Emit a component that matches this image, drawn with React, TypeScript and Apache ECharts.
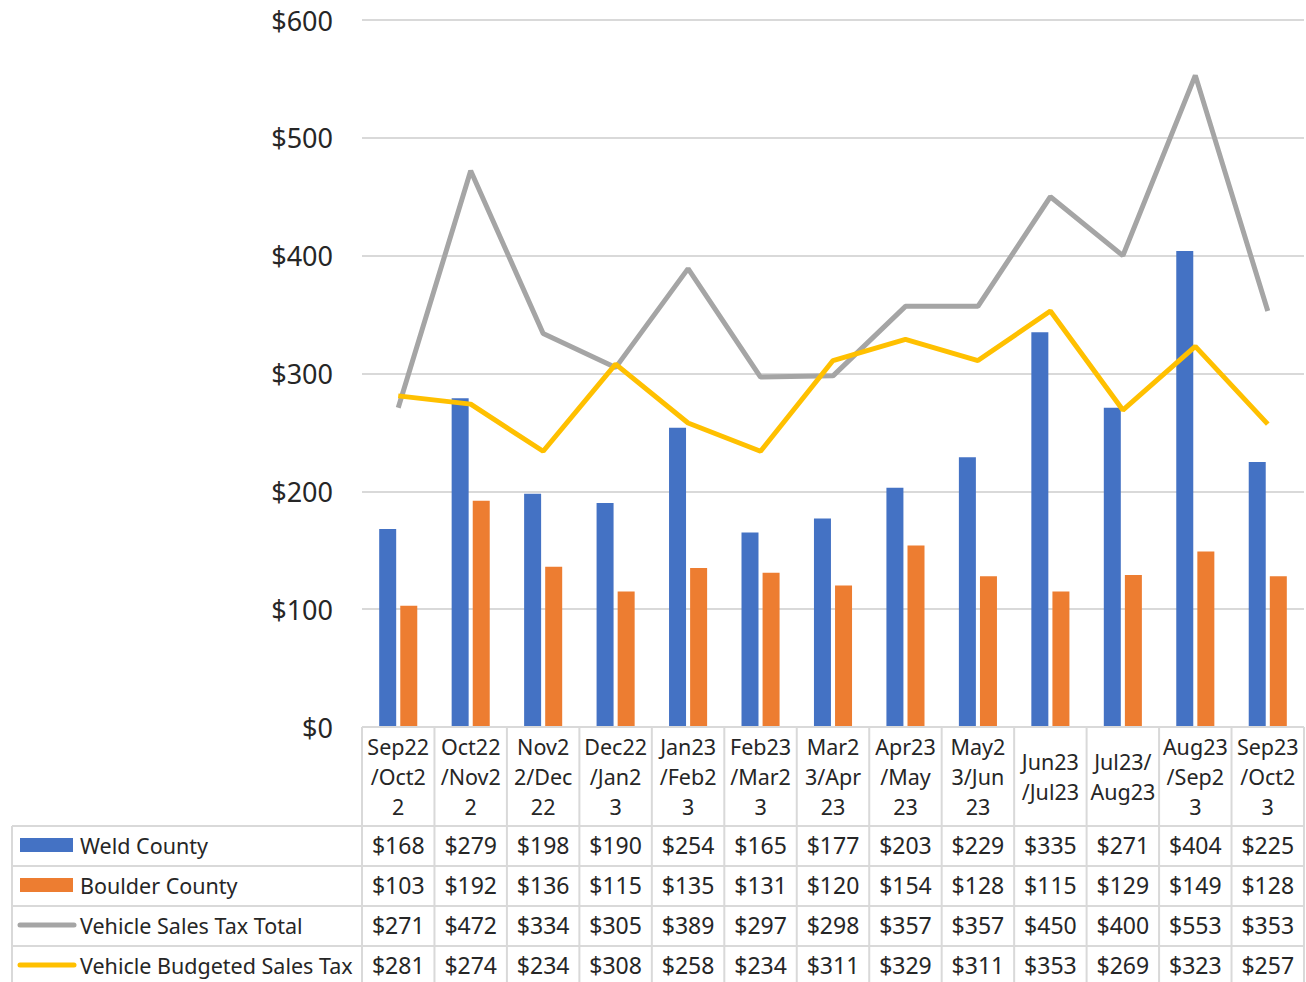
import React, { useEffect, useRef } from "react";
import * as echarts from "echarts";

const categories = [
  "Sep22\n/Oct2\n2", "Oct22\n/Nov2\n2", "Nov2\n2/Dec\n22", "Dec22\n/Jan2\n3",
  "Jan23\n/Feb2\n3", "Feb23\n/Mar2\n3", "Mar2\n3/Apr\n23", "Apr23\n/May\n23",
  "May2\n3/Jun\n23", "Jun23\n/Jul23", "Jul23/\nAug23", "Aug23\n/Sep2\n3", "Sep23\n/Oct2\n3",
];
const weld = [168, 279, 198, 190, 254, 165, 177, 203, 229, 335, 271, 404, 225];
const boulder = [103, 192, 136, 115, 135, 131, 120, 154, 128, 115, 129, 149, 128];
const total = [271, 472, 334, 305, 389, 297, 298, 357, 357, 450, 400, 553, 353];
const budget = [281, 274, 234, 308, 258, 234, 311, 329, 311, 353, 269, 323, 257];
const yTicks = [0, 100, 200, 300, 400, 500, 600];

const seriesInfo = [
  { name: "Weld County", data: weld, color: "#4472c4", kind: "bar" },
  { name: "Boulder County", data: boulder, color: "#ed7d31", kind: "bar" },
  { name: "Vehicle Sales Tax Total", data: total, color: "#a5a5a5", kind: "line" },
  { name: "Vehicle Budgeted Sales Tax", data: budget, color: "#ffc000", kind: "line" },
];

const FONT = "'Noto Sans', sans-serif";
const TXT = "#262626";
const BORDER = "#d9d9d9";

export default function App() {
  const ref = useRef<HTMLDivElement>(null);
  useEffect(() => {
    if (!ref.current) return;
    const chart = echarts.init(ref.current, null, { renderer: "svg" });
    const W = 1306, H = 982;
    const gridLeft = 362, gridRight = 2, gridTop = 20, plotBottom = 727;
    const plotW = W - gridLeft - gridRight;
    const n = categories.length;
    const colW = plotW / n;
    const tableLeft = 12;
    const headerBottom = 826;
    const rowH = 40;

    const graphics: any[] = [];
    const line = (x1: number, y1: number, x2: number, y2: number) =>
      graphics.push({ type: "line", shape: { x1, y1, x2, y2 }, style: { stroke: BORDER, lineWidth: 2 }, z: 10 });

    // table borders
    line(gridLeft, plotBottom, gridLeft + plotW, plotBottom);
    for (let r = 0; r <= seriesInfo.length; r++) {
      const y = headerBottom + r * rowH;
      line(tableLeft, y, gridLeft + plotW, y);
    }
    line(tableLeft, headerBottom, tableLeft, H + 10);
    for (let i = 0; i <= n; i++) {
      const x = gridLeft + i * colW;
      line(x, plotBottom, x, H + 10);
    }
    // category header labels
    categories.forEach((c, i) => {
      graphics.push({
        type: "text",
        x: gridLeft + (i + 0.5) * colW,
        y: (plotBottom + headerBottom) / 2,
        style: { text: c, fill: TXT, font: `21.5px ${FONT}`, align: "center", verticalAlign: "middle", lineHeight: 30 },
        z: 11,
      });
    });
    // rows
    seriesInfo.forEach((s, r) => {
      const cy = headerBottom + r * rowH + rowH / 2 - 1;
      if (s.kind === "bar") {
        graphics.push({ type: "rect", shape: { x: 20, y: cy - 7, width: 53, height: 14 }, style: { fill: s.color }, z: 11 });
      } else {
        graphics.push({ type: "line", shape: { x1: 20, y1: cy, x2: 74, y2: cy }, style: { stroke: s.color, lineWidth: 5, lineCap: "round" }, z: 11 });
      }
      graphics.push({
        type: "text", x: 80, y: cy,
        style: { text: s.name, fill: TXT, font: `21.5px ${FONT}`, align: "left", verticalAlign: "middle" }, z: 11,
      });
      s.data.forEach((v, i) => {
        graphics.push({
          type: "text", x: gridLeft + (i + 0.5) * colW, y: cy,
          style: { text: "$" + v, fill: TXT, font: `23px ${FONT}`, align: "center", verticalAlign: "middle" }, z: 11,
        });
      });
    });

    chart.setOption({
      animation: false,
      backgroundColor: "#fff",
      grid: { left: gridLeft, right: gridRight, top: gridTop, bottom: H - plotBottom, containLabel: false },
      xAxis: {
        type: "category",
        data: categories,
        axisLine: { show: false },
        axisTick: { show: false },
        axisLabel: { show: false },
      },
      yAxis: {
        type: "value",
        min: yTicks[0],
        max: yTicks[yTicks.length - 1],
        interval: 100,
        axisLine: { show: false },
        axisTick: { show: false },
        axisLabel: { formatter: (v: number) => "$" + v, color: TXT, fontSize: 27, fontFamily: FONT, margin: 29 },
        splitLine: { lineStyle: { color: BORDER, width: 2 } },
      },
      series: seriesInfo.map((s) =>
        s.kind === "bar"
          ? { name: s.name, type: "bar", data: s.data, itemStyle: { color: s.color }, barWidth: 17, barGap: "24%" }
          : { name: s.name, type: "line", data: s.data, showSymbol: false, symbol: "none", lineStyle: { color: s.color, width: 5 }, itemStyle: { color: s.color } }
      ),
      graphic: graphics,
    });
    return () => chart.dispose();
  }, []);
  return <div ref={ref} style={{ position: "fixed", left: 0, top: 0, width: 1306, height: 982 }} />;
}
